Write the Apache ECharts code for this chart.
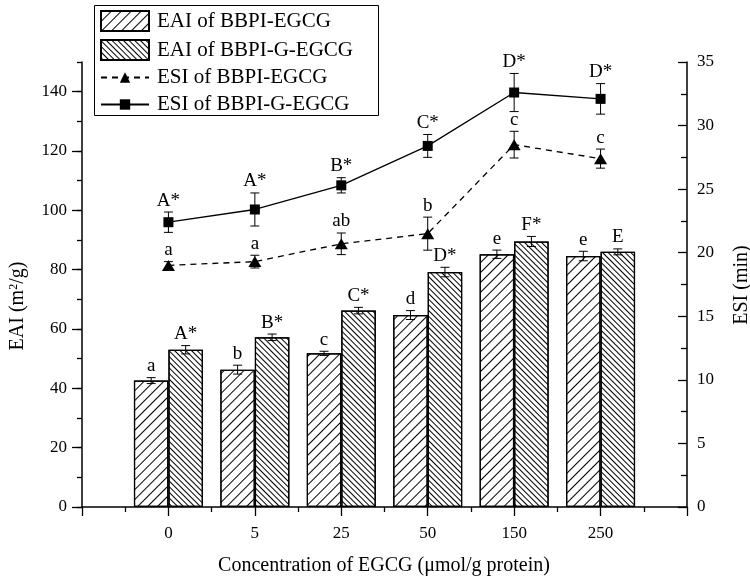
<!DOCTYPE html>
<html>
<head>
<meta charset="utf-8">
<script src="https://cdn.jsdelivr.net/npm/echarts@6/dist/echarts.min.js"></script>
<style>
html,body{margin:0;padding:0;background:#fff;}
#c{width:750px;height:579px;}
</style>
</head>
<body>
<div id="c"></div>
<script>
// ---- data ----
var categories = ['0', '5', '25', '50', '150', '250'];
var eaiEGCG = [42.6, 46.3, 51.8, 64.7, 85.2, 84.6];
var eaiEGCGErr = [1.0, 1.5, 0.7, 1.5, 1.4, 1.6];
var eaiEGCGLabels = ['a', 'b', 'c', 'd', 'e', 'e'];
var eaiGEGCG = [53.0, 57.2, 66.2, 79.2, 89.5, 86.0];
var eaiGEGCGErr = [1.4, 1.1, 1.1, 1.6, 1.7, 1.0];
var eaiGEGCGLabels = ['A*', 'B*', 'C*', 'D*', 'F*', 'E'];
var esiEGCG = [19.0, 19.3, 20.7, 21.5, 28.5, 27.4];
var esiEGCGErr = [0.3, 0.5, 0.85, 1.3, 1.05, 0.75];
var esiEGCGLabels = ['a', 'a', 'ab', 'b', 'c', 'c'];
var esiGEGCG = [22.4, 23.4, 25.3, 28.4, 32.6, 32.1];
var esiGEGCGErr = [0.8, 1.3, 0.6, 0.9, 1.5, 1.2];
var esiGEGCGLabels = ['A*', 'A*', 'B*', 'C*', 'D*', 'D*'];
var seriesNames = ['EAI of BBPI-EGCG', 'EAI of BBPI-G-EGCG', 'ESI of BBPI-EGCG', 'ESI of BBPI-G-EGCG'];
var leftTicks = [0, 20, 40, 60, 80, 100, 120, 140];

var FONT = '"Liberation Serif", "Times New Roman", serif';
var BAR_W = 34.5;

function pts(arr) { return arr.map(function (v, i) { return [i + 1, v]; }); }
function errPts(arr, err) { return arr.map(function (v, i) { return [i + 1, v, err[i]]; }); }

function makeErr(arr, err, labels, dx, yIdx, z) {
  return {
    type: 'custom',
    xAxisIndex: 0,
    yAxisIndex: yIdx,
    z: z,
    silent: true,
    data: errPts(arr, err),
    renderItem: function (params, api) {
      var x = api.value(0), y = api.value(1), e = api.value(2);
      var top = api.coord([x, y + e]);
      var bot = api.coord([x, y - e]);
      var cx = top[0] + dx;
      var cap = 4.5;
      var st = { stroke: '#000', lineWidth: 1 };
      return {
        type: 'group',
        children: [
          { type: 'line', shape: { x1: cx, y1: top[1], x2: cx, y2: bot[1] }, style: st },
          { type: 'line', shape: { x1: cx - cap, y1: top[1], x2: cx + cap, y2: top[1] }, style: st },
          { type: 'line', shape: { x1: cx - cap, y1: bot[1], x2: cx + cap, y2: bot[1] }, style: st },
          { type: 'text', style: { text: labels[params.dataIndex], x: cx, y: top[1] - 2, align: 'center', verticalAlign: 'bottom', font: '19px ' + FONT, fill: '#000' } }
        ]
      };
    }
  };
}

var legendText = { fontFamily: FONT, fontSize: 21, color: '#000', lineHeight: 20, padding: [0, 0, 0, 3] };

var chart = echarts.init(document.getElementById('c'), null, { renderer: 'canvas' });
var option = {
  animation: false,
  backgroundColor: '#fff',
  grid: { left: 82, right: 63, top: 62, bottom: 72, containLabel: false },
  legend: [
    {
      orient: 'vertical', left: 100, top: 10, padding: 0,
      itemGap: 7, itemWidth: 48, itemHeight: 20,
      data: [{ name: seriesNames[0], icon: 'rect' }, { name: seriesNames[1], icon: 'rect' }],
      textStyle: legendText, selectedMode: false
    },
    {
      orient: 'vertical', left: 100, top: 67, padding: 0,
      itemGap: 6, itemWidth: 48, itemHeight: 13,
      data: [seriesNames[2], seriesNames[3]],
      textStyle: legendText, selectedMode: false
    }
  ],
  xAxis: {
    type: 'value',
    min: 0, max: 7, interval: 1,
    axisLine: { show: true, onZero: false, lineStyle: { color: '#000', width: 1.5 } },
    axisTick: { show: true, length: 9, lineStyle: { color: '#000', width: 1.3 } },
    minorTick: { show: true, splitNumber: 2, length: 5, lineStyle: { color: '#000', width: 1.3 } },
    splitLine: { show: false },
    minorSplitLine: { show: false },
    axisLabel: {
      margin: 18, color: '#000', fontFamily: FONT, fontSize: 17,
      showMinLabel: true, showMaxLabel: true,
      formatter: function (v) { var i = Math.round(v); return (Math.abs(v - i) < 1e-6 && i >= 1 && i <= categories.length) ? categories[i - 1] : ''; }
    }
  },
  yAxis: [
    {
      type: 'value', position: 'left',
      min: 0, max: 150, interval: 20,
      axisLine: { show: true, lineStyle: { color: '#000', width: 1.5 } },
      axisTick: { show: true, length: 10, customValues: leftTicks, lineStyle: { color: '#000', width: 1.3 } },
      minorTick: { show: false },
      splitLine: { show: false },
      axisLabel: {
        margin: 15, color: '#000', fontFamily: FONT, fontSize: 17,
        customValues: leftTicks,
        formatter: function (v) { return leftTicks.indexOf(v) >= 0 ? String(v) : ''; }
      }
    },
    {
      type: 'value', position: 'right',
      min: 0, max: 35, interval: 5,
      axisLine: { show: true, lineStyle: { color: '#000', width: 1.5 } },
      axisTick: { show: true, inside: true, length: 9, lineStyle: { color: '#000', width: 1.3 } },
      minorTick: { show: true, splitNumber: 2, length: 6, lineStyle: { color: '#000', width: 1.3 } },
      splitLine: { show: false },
      axisLabel: { margin: 10, color: '#000', fontFamily: FONT, fontSize: 17 }
    },
    {
      type: 'value', position: 'left',
      min: 0, max: 150, interval: 10,
      axisLine: { show: false },
      axisTick: { show: true, length: 5, lineStyle: { color: '#000', width: 1.3 } },
      splitLine: { show: false },
      axisLabel: { show: false }
    }
  ],
  series: [
    {
      name: seriesNames[0], type: 'bar', xAxisIndex: 0, yAxisIndex: 0, z: 1,
      barWidth: BAR_W, barGap: '0%',
      data: pts(eaiEGCG),
      itemStyle: {
        color: '#fff', borderColor: '#000', borderWidth: 1.2,
        decal: { symbol: 'rect', symbolSize: 1, dashArrayX: [1, 0], dashArrayY: [1, 5.5], rotation: -Math.PI / 4, color: '#000' }
      }
    },
    {
      name: seriesNames[1], type: 'bar', xAxisIndex: 0, yAxisIndex: 0, z: 1,
      barWidth: BAR_W, barGap: '0%',
      data: pts(eaiGEGCG),
      itemStyle: {
        color: '#fff', borderColor: '#000', borderWidth: 1.2,
        decal: { symbol: 'rect', symbolSize: 1, dashArrayX: [1, 0], dashArrayY: [1, 2.4], rotation: Math.PI / 4, color: '#000' }
      }
    },
    {
      name: seriesNames[2], type: 'line', xAxisIndex: 0, yAxisIndex: 1, z: 5,
      data: pts(esiEGCG),
      symbol: 'triangle', symbolSize: [13, 11],
      itemStyle: { color: '#000' },
      lineStyle: { color: '#000', width: 1.3, type: [6, 5] }
    },
    {
      name: seriesNames[3], type: 'line', xAxisIndex: 0, yAxisIndex: 1, z: 5,
      data: pts(esiGEGCG),
      symbol: 'rect', symbolSize: 10,
      itemStyle: { color: '#000' },
      lineStyle: { color: '#000', width: 1.3 }
    },
    makeErr(eaiEGCG, eaiEGCGErr, eaiEGCGLabels, -BAR_W / 2, 0, 3),
    makeErr(eaiGEGCG, eaiGEGCGErr, eaiGEGCGLabels, BAR_W / 2, 0, 3),
    makeErr(esiEGCG, esiEGCGErr, esiEGCGLabels, 0, 1, 4),
    makeErr(esiGEGCG, esiGEGCGErr, esiGEGCGLabels, 0, 1, 4)
  ],
  graphic: [
    {
      type: 'rect', left: 92, top: 3, z: 0,
      shape: { width: 284, height: 110 },
      style: { fill: 'none', stroke: '#000', lineWidth: 1 }
    },
    {
      type: 'text', x: 18, y: 306, rotation: Math.PI / 2,
      style: {
        text: '{a|EAI (m}{s|2}{a|/g)}', align: 'center', verticalAlign: 'middle',
        rich: {
          a: { fontFamily: FONT, fontSize: 20, fill: '#000', color: '#000', verticalAlign: 'bottom' },
          s: { fontFamily: FONT, fontSize: 12, fill: '#000', color: '#000', verticalAlign: 'top', padding: [0, 0, 8, 0] }
        }
      }
    },
    {
      type: 'text', x: 742, y: 285, rotation: Math.PI / 2,
      style: { text: 'ESI (min)', align: 'center', verticalAlign: 'middle', font: '20px ' + FONT, fill: '#000' }
    },
    {
      type: 'text', x: 384, y: 566,
      style: { text: 'Concentration of EGCG (\u03bcmol/g protein)', align: 'center', verticalAlign: 'middle', font: '20px ' + FONT, fill: '#000' }
    }
  ]
};
chart.setOption(option);
</script>
</body>
</html>
